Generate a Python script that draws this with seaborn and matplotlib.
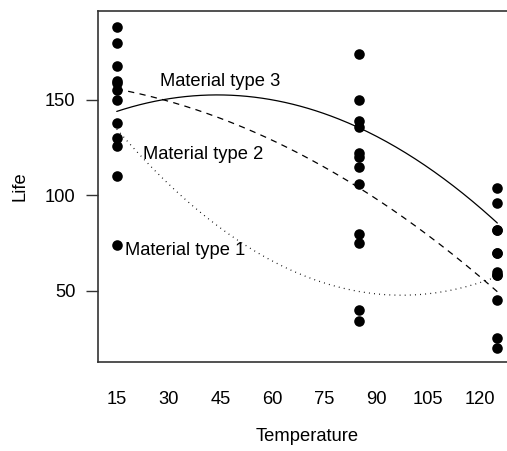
import numpy as np
import pandas as pd
import matplotlib
matplotlib.use("Agg")
import matplotlib.pyplot as plt
import seaborn as sns

# Battery life by material type and temperature (4 replicates per cell)
temperature = [15, 70, 125]           # temperature levels used for the quadratic fits
point_position = [15, 85, 125]        # horizontal position where each level's points are drawn
material_1 = [[130, 155, 74, 180], [34, 40, 80, 75], [20, 70, 82, 58]]
material_2 = [[150, 188, 159, 126], [136, 122, 106, 115], [25, 70, 58, 45]]
material_3 = [[138, 110, 168, 160], [174, 120, 150, 139], [96, 104, 82, 60]]
material_labels = ["Material type 1", "Material type 2", "Material type 3"]
label_anchor_x = [17.4, 22.6, 27.5]
label_anchor_y = [71.3, 121.2, 159.6]
x_ticks = [15, 30, 45, 60, 75, 90, 105, 120]
y_ticks = [50, 100, 150]

materials = [material_1, material_2, material_3]

rows = []
for m, values in enumerate(materials, start=1):
    for temp, pos, reps in zip(temperature, point_position, values):
        for life in reps:
            rows.append({"Material": m, "Temp": temp, "Position": pos, "Life": life})
df = pd.DataFrame(rows)

sns.set_theme(style="white")
plt.rcParams["font.family"] = ["Liberation Sans", "DejaVu Sans"]

FS = 13.2
fig = plt.figure(figsize=(5.07, 4.51), dpi=100)
W, H = 507, 451
left_px, top_px, bottom_px = 97.7, 10.7, 361.7
x_lo, x_hi = 9.5, 130.4
px_per_unit = 3.46
width_px = (x_hi - x_lo) * px_per_unit
ax = fig.add_axes([left_px / W, (H - bottom_px) / H, width_px / W, (bottom_px - top_px) / H])

# observations
sns.scatterplot(data=df, x="Position", y="Life", color="black", s=58,
                linewidth=0, ax=ax, legend=False, zorder=3)

# quadratic fit of life on temperature for each material
styles = [(0, (0.7, 3.4)), (0, (5, 4.3)), "-"]
grid = np.linspace(temperature[0], temperature[-1], 200)
for m, ls in enumerate(styles, start=1):
    sub = df[df["Material"] == m]
    coef = np.polyfit(sub["Temp"], sub["Life"], 2)
    fit = pd.DataFrame({"Temp": grid, "Life": np.polyval(coef, grid)})
    sns.lineplot(data=fit, x="Temp", y="Life", color="black", linewidth=0.9,
                 linestyle=ls, ax=ax, zorder=2)

for text, tx, ty in zip(material_labels, label_anchor_x, label_anchor_y):
    ax.text(tx, ty, text, ha="left", va="center", fontsize=FS, color="black")

ax.set_xlim(x_lo, x_hi)
ax.set_ylim(12.8, 196.8)
ax.set_xticks(x_ticks)
ax.set_xticklabels([str(v) for v in x_ticks])
ax.set_yticks(y_ticks)
ax.set_yticklabels([str(v) for v in y_ticks])
ax.tick_params(axis="x", length=0, pad=21, labelsize=FS, colors="black")
ax.tick_params(axis="y", left=True, length=8.4, width=1.0, color="#333333",
               pad=7.5, labelsize=FS, labelcolor="black")

ax.set_xlabel("Temperature", fontsize=FS, color="black")
ax.set_ylabel("Life", fontsize=FS, color="black")
ax.xaxis.set_label_coords(0.5, -0.212)
ax.xaxis.label.set_va("center")
ax.yaxis.set_label_coords((20 - left_px) / width_px, 0.5)
ax.yaxis.label.set_va("center")

for side in ["left", "bottom", "top", "right"]:
    ax.spines[side].set_visible(True)
    ax.spines[side].set_color("#333333")
    ax.spines[side].set_linewidth(1.2)

fig.savefig("out.png", dpi=100)
